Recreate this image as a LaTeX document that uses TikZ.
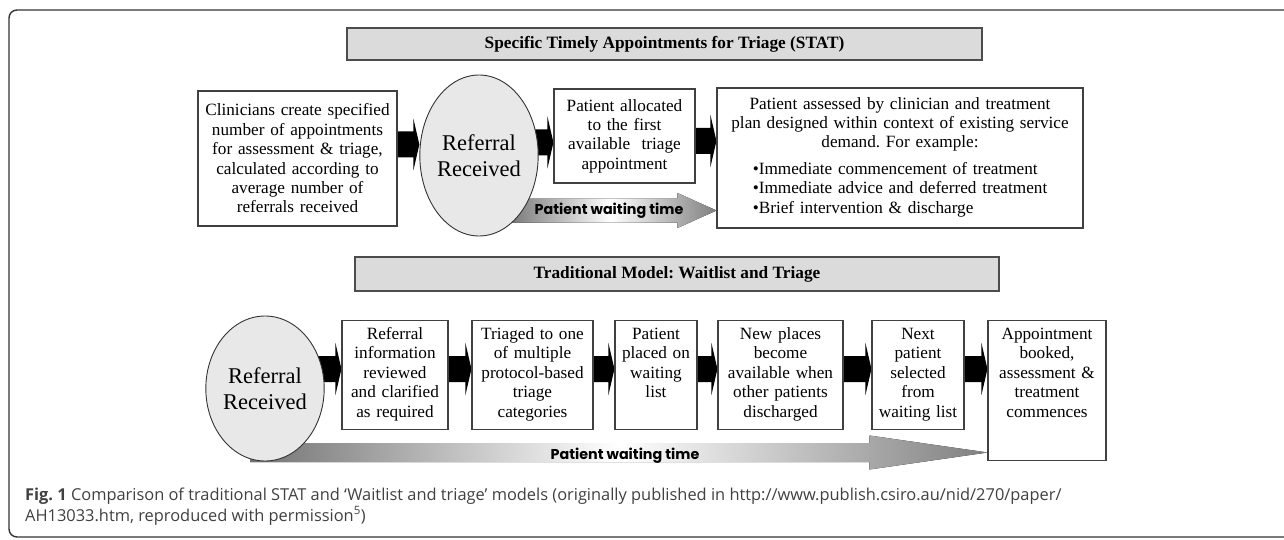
\documentclass[tikz,border=0pt]{standalone}
\usepackage{fontspec}
\setmainfont{Liberation Serif}
\newfontfamily\waitfont{Poppins}
\newfontfamily\capfont{Open Sans}
\usetikzlibrary{calc, shapes.geometric, backgrounds}
\frenchspacing

% black block arrow from node #1 to node #2 at height #3
\newcommand{\flowarrow}[3]{%
  \coordinate (fa) at (0,#3);
  \fill[black] ($(#1.east |- fa)+(-8,-13)$) -- ($(#2.west |- fa)+(-6,-13)$) -- ++(0,-13)
    -- (#2.west |- fa) -- ++(-6,26) -- ++(0,-13) -- ($(#1.east |- fa)+(-8,13)$) -- cycle;}
% shaded waiting arrow from coordinate #1 to node #2
\newcommand{\waitarrow}[5]{%
  \fill[waitshade] ($(#1)+(0,-#3)$) -- ($(#2.west |- #1)+(-#5,-#3)$) -- ($(#2.west |- #1)+(-#5,-#4)$)
    -- (#2.west |- #1) -- ($(#2.west |- #1)+(-#5,#4)$) -- ($(#2.west |- #1)+(-#5,#3)$) -- ($(#1)+(0,#3)$) -- cycle;}

\begin{document}
\begin{tikzpicture}[x=1pt, y=-1pt,
    titlebox/.style={draw=black!70, line width=1.3pt, fill=black!14, inner sep=0pt,
      font=\fontsize{17.3}{20}\selectfont\bfseries},
    stepbox/.style={draw=black!75, line width=1.1pt, fill=white, align=center,
      inner xsep=0pt, inner ysep=4pt, font=\fontsize{17.2}{19.4}\selectfont},
    topbox/.style={stepbox, anchor=north, text height=15pt, text depth=#1},
    referral/.style={ellipse, draw=black!80, line width=0.9pt, fill=black!9, inner sep=0pt,
      align=center, font=\fontsize{22.5}{26.5}\selectfont},
    waitshade/.style={left color=black!55, right color=black!50, middle color=white},
    waitlabel/.style={inner sep=0pt, font=\waitfont\bfseries\fontsize{14.3}{16}\selectfont},
    caption/.style={inner sep=0pt, anchor=base west, text=black!75, font=\capfont\fontsize{16.4}{20}\selectfont}]
  \useasboundingbox (0,0) rectangle (1284,540);
  \draw[black!80, line width=1.4pt, rounded corners=8pt] (1290,10) -- (9,10) -- (9,537) -- (1290,537);

  % STAT
  \node[titlebox, minimum width=635pt, minimum height=32pt] (stattitle) at (664.5,44) {Specific Timely Appointments for Triage (STAT)};
  \node[stepbox, text width=199pt, minimum height=135pt] (create) at (297.5,158.5)
    {Clinicians create specified\\number of appointments\\for assessment \& triage,\\calculated according to\\average number of\\referrals received};
  \node[referral, minimum width=116pt, minimum height=161pt] (statref) at (479,155.5) {Referral\\Received};
  \node[stepbox, text width=141pt, minimum height=94pt] (allocate) at (624.5,136)
    {Patient allocated\\to the first\\available~ triage\\appointment};
  \node[stepbox, text width=366pt, minimum height=140pt] (assess) at (900,158)
    {Patient assessed by clinician and treatment\\plan designed within context of existing service\\demand. For example:\\[7pt]
     \begin{tabular}[t]{@{}l@{}}•Immediate commencement of treatment\\•Immediate advice and deferred treatment\\•Brief intervention \& discharge\end{tabular}};

  % waitlist and triage
  \node[titlebox, minimum width=644pt, minimum height=34pt] (tradtitle) at (677,274) {Traditional Model: Waitlist and Triage};
  \node[referral, minimum width=106pt, minimum height=145pt] (tradref) at (265,388.5) {Referral\\Received};
  \node[topbox=86pt, text width=106pt] (review) at (395,320) {Referral\\information\\reviewed\\and clarified\\as required};
  \node[topbox=86pt, text width=121pt] (categorise) at (532.5,320) {Triaged to one\\of multiple\\protocol-based\\triage\\categories};
  \node[topbox=86pt, text width=82pt] (waitlist) at (656,320) {Patient\\placed on\\waiting\\list};
  \node[topbox=86pt, text width=125pt] (places) at (780.5,320) {New places\\become\\available when\\other patients\\discharged};
  \node[topbox=86pt, text width=92pt] (select) at (918,320) {Next\\patient\\selected\\from\\waiting list};
  \node[topbox=117pt, text width=118pt] (book) at (1047,320) {Appointment\\booked,\\assessment \&\\treatment\\commences};

  \begin{scope}[on background layer]
    \flowarrow{create}{statref}{144.5}
    \flowarrow{statref}{allocate}{142.5}
    \flowarrow{allocate}{assess}{141}
    \flowarrow{tradref}{review}{369}
    \flowarrow{review}{categorise}{369}
    \flowarrow{categorise}{waitlist}{369}
    \flowarrow{waitlist}{places}{369}
    \flowarrow{places}{select}{369}
    \flowarrow{select}{book}{369}
    \coordinate (statwait) at (505,210.5);
    \waitarrow{statwait}{assess}{12}{17.5}{39}
    \coordinate (tradwait) at (250,452.5);
    \waitarrow{tradwait}{book}{9.5}{17}{118}
  \end{scope}
  \node[waitlabel] (statwaitlabel) at (609,211) {Patient waiting time};
  \node[waitlabel] (tradwaitlabel) at (625,456) {Patient waiting time};

  % caption
  \node[caption] (caption1) at (25,500) {\textbf{Fig. 1} Comparison of traditional STAT and ‘Waitlist and triage’ models (originally published in http://www.publish.csiro.au/nid/270/paper/};
  \node[caption] (caption2) at (25,521) {AH13033.htm, reproduced with permission\textsuperscript{5})};
\end{tikzpicture}
\end{document}
